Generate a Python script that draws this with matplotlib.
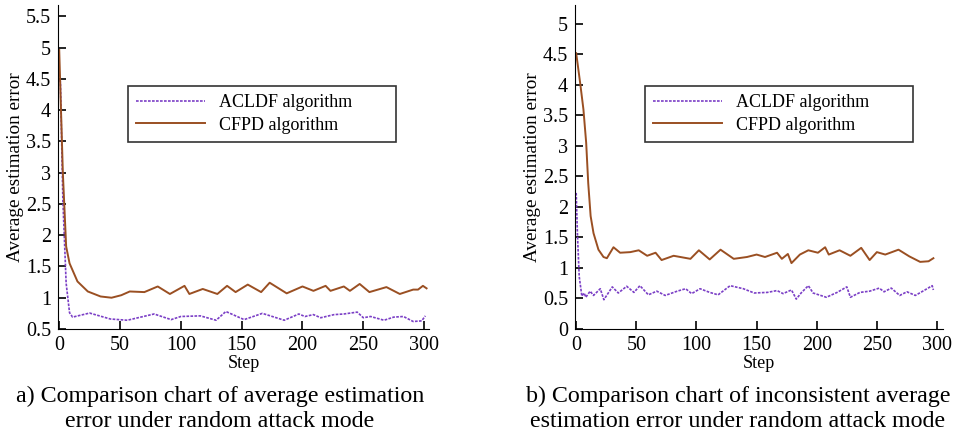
import matplotlib.pyplot as plt

plt.rcParams['font.family'] = ['Liberation Serif', 'DejaVu Serif']
plt.rcParams['mathtext.fontset'] = 'stix'

# panel a: random attack mode
a_aclf_x = [0, 1, 3, 5.7, 8.5, 11, 25, 42, 56, 78, 92, 100, 116, 129, 137, 152, 167, 185,
            197, 202, 209, 215, 226, 234, 245, 250, 256, 267, 275, 283, 291, 298, 301]
a_aclf_y = [4.48, 4.45, 2.56, 1.23, 0.76, 0.69, 0.755, 0.66, 0.64, 0.74, 0.65, 0.70, 0.71, 0.64,
            0.78, 0.65, 0.75, 0.64, 0.74, 0.70, 0.73, 0.68, 0.73, 0.74, 0.77, 0.68, 0.70, 0.64,
            0.69, 0.70, 0.62, 0.63, 0.71]
a_cfpd_x = [0, 3, 5.7, 8.5, 15, 23.5, 34, 43, 51, 58, 70, 81, 91, 103, 107, 118, 130, 138,
            145, 155, 166, 173, 187, 200, 209, 219, 223, 234, 239, 247, 255, 269, 280, 291,
            295, 299, 302]
a_cfpd_y = [4.96, 2.99, 1.82, 1.55, 1.26, 1.10, 1.02, 1.00, 1.04, 1.10, 1.09, 1.18, 1.06,
            1.19, 1.06, 1.14, 1.06, 1.19, 1.09, 1.21, 1.09, 1.24, 1.07, 1.18, 1.11, 1.19,
            1.11, 1.18, 1.11, 1.22, 1.09, 1.17, 1.06, 1.13, 1.13, 1.19, 1.15]

# panel b: inconsistent error, random attack mode
b_aclf_x = [0, 1, 2.5, 4.7, 6.6, 8, 11.6, 14.4, 20, 23, 30, 35, 42, 48, 53, 60, 67, 74, 84,
            91, 96, 103, 111, 118, 128, 139, 148, 159, 167, 172, 179, 183, 187, 193, 197,
            208, 217, 225, 228, 236, 244, 252, 256, 262, 269, 275, 282, 290, 296, 297]
b_aclf_y = [2.23, 1.57, 0.86, 0.54, 0.59, 0.52, 0.62, 0.55, 0.66, 0.48, 0.69, 0.59, 0.70,
            0.60, 0.71, 0.56, 0.62, 0.55, 0.62, 0.66, 0.58, 0.66, 0.60, 0.56, 0.71, 0.66,
            0.59, 0.60, 0.63, 0.58, 0.64, 0.49, 0.59, 0.71, 0.59, 0.52, 0.60, 0.69, 0.52,
            0.60, 0.62, 0.67, 0.61, 0.67, 0.55, 0.61, 0.55, 0.64, 0.71, 0.64]
b_cfpd_x = [0, 3.3, 6, 8.3, 10, 12, 14.4, 18.5, 22.7, 25.5, 31, 36.5, 45, 52, 59, 66, 71,
            81, 95, 102, 111, 120, 131, 142, 150, 157, 167, 171, 176, 179, 186, 193, 201,
            207, 210, 219, 228, 237, 244, 250, 257, 268, 277, 286, 293, 297]
b_cfpd_y = [4.52, 4.03, 3.6, 3.05, 2.39, 1.85, 1.57, 1.30, 1.18, 1.16, 1.34, 1.25, 1.26,
            1.29, 1.20, 1.25, 1.13, 1.20, 1.15, 1.29, 1.14, 1.30, 1.15, 1.18, 1.22, 1.18,
            1.25, 1.15, 1.23, 1.08, 1.22, 1.29, 1.25, 1.34, 1.22, 1.29, 1.20, 1.33, 1.13,
            1.26, 1.22, 1.30, 1.19, 1.10, 1.11, 1.16]

a_yticks = [0.5, 1, 1.5, 2, 2.5, 3, 3.5, 4, 4.5, 5, 5.5]
b_yticks = [0, 0.5, 1, 1.5, 2, 2.5, 3, 3.5, 4, 4.5, 5]
xticks = [0, 50, 100, 150, 200, 250, 300]

captions = ["a) Comparison chart of average estimation\nerror under random attack mode",
            "b) Comparison chart of inconsistent average\nestimation error under random attack mode"]

purple = '#7b3fc6'
brown = '#9a4f22'

fig = plt.figure(figsize=(9.58, 4.38), dpi=100)
ax_a = fig.add_axes([58 / 958, 1 - 329 / 438, 371 / 958, 324 / 438])
ax_b = fig.add_axes([575 / 958, 1 - 329 / 438, 368 / 958, 324 / 438])

panels = [
    (ax_a, a_aclf_x, a_aclf_y, a_cfpd_x, a_cfpd_y, a_yticks, (0.5, 5.68), (-1, 304), 128),
    (ax_b, b_aclf_x, b_aclf_y, b_cfpd_x, b_cfpd_y, b_yticks, (0, 5.31), (-1, 305), 645),
]
for ax, ax1, ay1, ax2, ay2, yt, ylim, xlim, legx in panels:
    ax.plot(ax1, ay1, color=purple, lw=1.2, ls=(0, (1.6, 0.8)), label='ACLDF algorithm')
    ax.plot(ax2, ay2, color=brown, lw=1.4, label='CFPD algorithm')
    ax.set_xlim(*xlim)
    ax.set_ylim(*ylim)
    ax.set_yticks(yt)
    ax.set_yticklabels(['%g' % v for v in yt])
    ax.set_xticks(xticks)
    ax.spines['top'].set_visible(False)
    ax.spines['right'].set_visible(False)
    ax.tick_params(direction='in', length=6, width=1.2, labelsize=14.5, pad=5)
    ax.set_xlabel('Step', fontsize=13, labelpad=0)
    ax.set_ylabel('Average estimation error', fontsize=13.8, labelpad=1)
    # legend box in figure pixels (left, top) = (legx, 86), size 268 x 60
    pos = ax.get_position()
    bx = (legx / 958 - pos.x0) / pos.width
    bw = (268 / 958) / pos.width
    by = ((1 - 146 / 438) - pos.y0) / pos.height
    bh = (60 / 438) / pos.height
    leg = ax.legend(loc='upper left', bbox_to_anchor=(bx, by, bw, bh), mode='expand',
                    fontsize=13, frameon=True, fancybox=False, edgecolor='black',
                    handlelength=3.8, borderpad=0.45, labelspacing=0.3, borderaxespad=0)
    leg.get_frame().set_linewidth(1.2)

fig.text(220 / 958, 1 - 409 / 438, captions[0], ha='center', va='center', fontsize=17.3,
         linespacing=1.25)
fig.text(738 / 958, 1 - 409 / 438, captions[1], ha='center', va='center', fontsize=17.3,
         linespacing=1.25)

plt.savefig('out.png', dpi=100)
